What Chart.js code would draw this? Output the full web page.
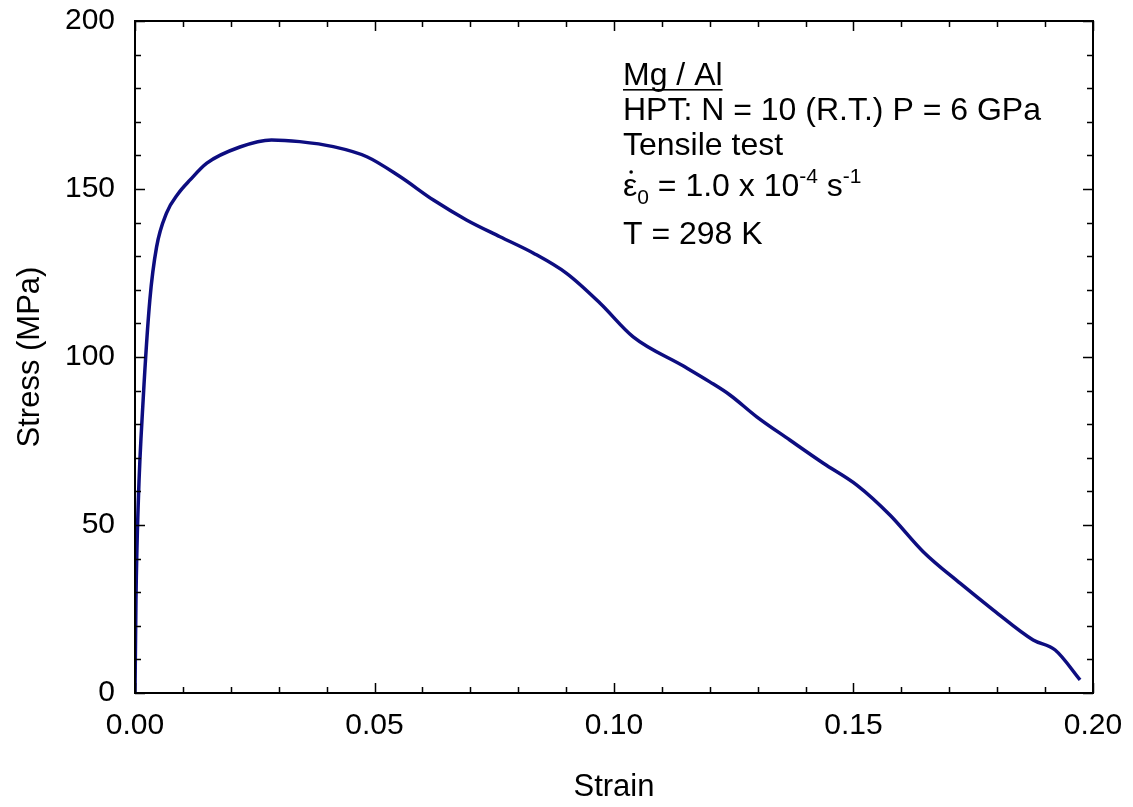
<!DOCTYPE html>
<html>
<head>
<meta charset="utf-8">
<script src="https://cdn.jsdelivr.net/npm/chart.js@4.4.1/dist/chart.umd.min.js"></script>
<style>
  html, body { margin: 0; padding: 0; background: #fff; }
  #chart { display: block; }
</style>
</head>
<body>
<canvas id="chart" width="1133" height="807"></canvas>
<script>
// stress-strain curve
const strain = [0, 0.0002, 0.0007, 0.0017, 0.0031, 0.0045, 0.0066, 0.0090, 0.0115, 0.0150,
                0.0219, 0.0285, 0.0344, 0.0414, 0.0484, 0.0553, 0.0623, 0.0692, 0.0762, 0.0832,
                0.0901, 0.0971, 0.1040, 0.1145, 0.1200, 0.1242, 0.1298, 0.1367, 0.1437,
                0.1507, 0.1576, 0.1646, 0.1723, 0.1792, 0.1875, 0.1921, 0.1973];
const stress = [0, 27.7, 57.4, 87.2, 117, 132.7, 142.9, 148.6, 152.7, 157.7,
                162.5, 164.6, 164.1, 162.6, 159.6, 153.7, 146.7, 140.8, 135.8, 130.9,
                124.9, 116.0, 106.0, 97.3, 92.6, 88.7, 82.2, 75.3, 68.4,
                61.9, 53.0, 42.0, 32.6, 24.7, 15.8, 12.8, 3.9];

const xLabelTicks = [0, 0.05, 0.10, 0.15, 0.20];
const yLabelTicks = [0, 50, 100, 150, 200];

const FONT = "'Liberation Sans', Arial, sans-serif";
const LINE_COLOR = '#0d0d80';

const isMajorX = v => xLabelTicks.some(t => Math.abs(t - v) < 1e-6);
const isMajorY = v => yLabelTicks.some(t => Math.abs(t - v) < 1e-6);

// inward tick marks on all four sides + frame
const frameTicks = {
    id: 'frameTicks',
    afterDatasetsDraw(chart) {
        const { ctx, chartArea: a, scales: { x, y } } = chart;
        ctx.save();
        ctx.strokeStyle = '#000';
        ctx.lineWidth = 1.5;
        ctx.beginPath();
        x.ticks.forEach(t => {
            const px = Math.round(x.getPixelForValue(t.value)) + 0.5;
            const len = isMajorX(t.value) ? 10 : 6;
            ctx.moveTo(px, a.bottom); ctx.lineTo(px, a.bottom - len);
            ctx.moveTo(px, a.top); ctx.lineTo(px, a.top + len);
        });
        y.ticks.forEach(t => {
            const py = Math.round(y.getPixelForValue(t.value)) + 0.5;
            const len = isMajorY(t.value) ? 10 : 6;
            ctx.moveTo(a.left, py); ctx.lineTo(a.left + len, py);
            ctx.moveTo(a.right, py); ctx.lineTo(a.right - len, py);
        });
        ctx.stroke();
        ctx.lineWidth = 2;
        ctx.strokeRect(a.left, a.top, a.right - a.left, a.bottom - a.top);
        ctx.restore();
    }
};

// text block in upper right
const note = {
    id: 'note',
    afterDraw(chart) {
        const ctx = chart.ctx;
        const x0 = 623;
        const big = '32px ' + FONT;
        const small = '21px ' + FONT;
        ctx.save();
        ctx.fillStyle = '#000';
        ctx.textBaseline = 'alphabetic';
        ctx.textAlign = 'left';
        ctx.font = big;

        ctx.fillText('Mg / Al', x0, 85);
        const w = ctx.measureText('Mg / Al').width;
        ctx.fillRect(x0, 89, w, 1.6);

        ctx.fillText('HPT: N = 10 (R.T.) P = 6 GPa', x0, 120);
        ctx.fillText('Tensile test', x0, 155);

        // strain-rate line with sub/superscripts
        let cx = x0;
        const base = 196;
        const part = (txt, font, dy) => {
            ctx.font = font;
            ctx.fillText(txt, cx, base + dy);
            cx += ctx.measureText(txt).width;
        };
        ctx.font = big;
        const ew = ctx.measureText('\u03B5').width;
        ctx.beginPath();
        ctx.arc(cx + ew / 2 + 1, base - 24, 1.8, 0, Math.PI * 2);
        ctx.fill();
        part('\u03B5', big, 0);
        part('0', small, 8);
        part(' = 1.0 x 10', big, 0);
        part('-4', small, -13);
        part(' s', big, 0);
        part('-1', small, -13);

        ctx.font = big;
        ctx.fillText('T = 298 K', x0, 244);
        ctx.restore();
    }
};

const ctx = document.getElementById('chart');
new Chart(ctx.getContext('2d'), {
    type: 'line',
    data: {
        datasets: [{
            data: strain.map((s, i) => ({ x: s, y: stress[i] })),
            borderColor: LINE_COLOR,
            borderWidth: 3.5,
            pointRadius: 0,
            fill: false,
            cubicInterpolationMode: 'monotone'
        }]
    },
    options: {
        responsive: false,
        animation: false,
        layout: { padding: { top: 21, right: 40, left: 0, bottom: 0 } },
        plugins: { legend: { display: false }, tooltip: { enabled: false } },
        scales: {
            x: {
                type: 'linear',
                min: 0, max: 0.2,
                grid: { display: false },
                border: { display: false },
                ticks: {
                    stepSize: 0.01,
                    autoSkip: false,
                    maxRotation: 0,
                    padding: 7,
                    color: '#000',
                    font: { family: FONT, size: 30 },
                    callback: v => isMajorX(v) ? v.toFixed(2) : ''
                },
                title: {
                    display: true,
                    text: 'Strain',
                    color: '#000',
                    font: { family: FONT, size: 31 },
                    padding: { top: 0, bottom: 1 }
                },
                afterFit(s) {
                    s.height = 114;
                    s.paddingLeft = 0; s.paddingRight = 0;
                }
            },
            y: {
                min: 0, max: 200,
                grid: { display: false },
                border: { display: false },
                ticks: {
                    stepSize: 10,
                    autoSkip: false,
                    padding: 12,
                    color: '#000',
                    font: { family: FONT, size: 30 },
                    callback: v => isMajorY(v) ? String(v) : ''
                },
                title: {
                    display: true,
                    text: 'Stress (MPa)',
                    color: '#000',
                    font: { family: FONT, size: 31 },
                    padding: { top: 12, bottom: 0 }
                },
                afterFit(s) {
                    s.width = 135;
                    s.paddingTop = 0; s.paddingBottom = 0;
                }
            }
        }
    },
    plugins: [frameTicks, note]
});
</script>
</body>
</html>
